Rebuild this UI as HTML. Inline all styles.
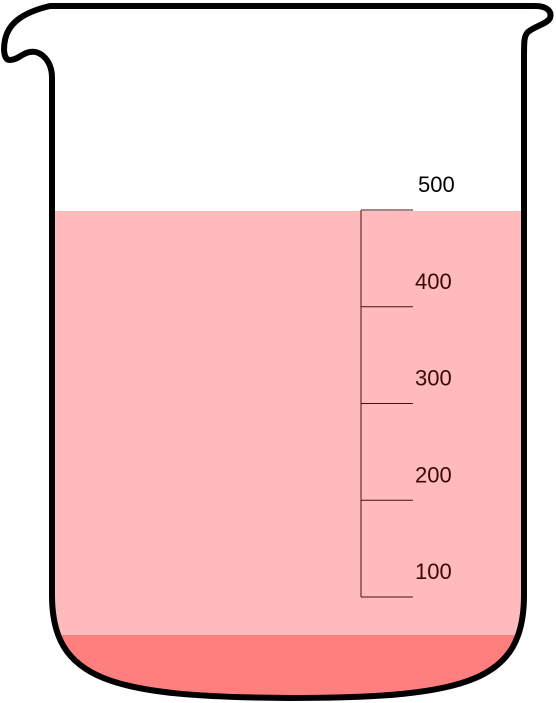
<!DOCTYPE html>
<html><head><meta charset="utf-8"><style>html,body{margin:0;padding:0;background:#fff;}svg{display:block}</style></head>
<body>
<svg width="556" height="703" viewBox="0 0 556 703">
<defs>
<clipPath id="inside">
<path d="M52,60 L52,595 C52,680 110,697 290,698 C470,698 524,680 524,595 L524,35 L52,35 Z"/>
</clipPath>
</defs>
<g clip-path="url(#inside)">
<rect x="40" y="211" width="500" height="500" fill="#ffbbbb"/>
<rect x="40" y="635" width="500" height="80" fill="#ff7f7f"/>
</g>
<path fill="none" stroke="#000" stroke-width="6" stroke-linejoin="round" stroke-linecap="round"
d="M52,118 L52,78 C52,60 40,50 30,52 C22,53 18,60 10,60 C4,60 3,50 5,40 C8,25 20,13 50,6 L535,6 C548,6 552,12 550,18 C547,24 535,26 528,32 C524,36 524,40 524,60 L524,595 C524,680 470,698 290,698 C110,697 52,680 52,595 Z"/>
<g id="scale"></g>
</svg>
<script>
const values=[100,200,300,400,500];
const labels=["100","200","300","400","500"];
const NS="http://www.w3.org/2000/svg";
const g=document.getElementById('scale');
function y(v){return 597-(v-100)*(597-210)/400;}
const axis=document.createElementNS(NS,'line');


axis.setAttribute('x1',361);axis.setAttribute('x2',361);
axis.setAttribute('y1',y(500));axis.setAttribute('y2',y(100));
axis.setAttribute('stroke','#4a1010');axis.setAttribute('stroke-width','1');
g.appendChild(axis);
values.forEach((v,i)=>{
 const t=document.createElementNS(NS,'line');
 
 
 t.setAttribute('x1',361);t.setAttribute('x2',413);
 t.setAttribute('y1',y(v));t.setAttribute('y2',y(v));
 t.setAttribute('stroke','#4a1010');t.setAttribute('stroke-width','1');
 g.appendChild(t);
 const tx=document.createElementNS(NS,'text');
 
 
 tx.setAttribute('x',v===500?418:415);tx.setAttribute('y',y(v)-18);
 tx.setAttribute('font-family','Liberation Sans, sans-serif');
 tx.setAttribute('font-size','22');
 tx.setAttribute('fill',v===500?'#000':'#3a0808');
 tx.textContent=labels[i];
 g.appendChild(tx);
});
</script>
</body></html>
